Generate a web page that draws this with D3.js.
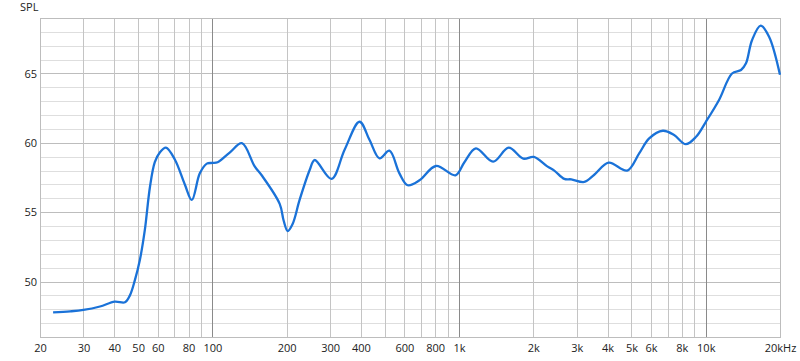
<!DOCTYPE html>
<html><head><meta charset="utf-8">
<script src="https://cdn.jsdelivr.net/npm/d3@7"></script>
<style>
body{margin:0;background:#fff;}
text{font-family:"Open Sans","Noto Sans",sans-serif;font-size:11px;fill:#222;}
</style></head>
<body><svg id="c" width="800" height="361"></svg>
<script>
const freqs = [22.6,26.5,30,35,40.2,44.2,46.3,48.5,50.8,53.2,55.8,58.4,61.2,64.8,70.4,77.3,82.5,88.9,94.9,100,105,117.5,131.7,148.4,158.4,187.4,194.4,201.9,211.4,225.8,247.9,259.6,304,343.5,395,433.7,476,522,573,619,691,806,967,1051,1170,1374,1588,1820,2010,2278,2432,2671,2850,3218,3532,4040,4800,5372,5898,6700,7446,8300,9140,10000,11320,12780,13900,14560,15400,16700,18060,20000];
const spl = [47.78,47.85,47.95,48.2,48.55,48.5,49.0,50.1,51.55,53.7,56.8,58.6,59.3,59.65,58.8,57.0,55.88,57.8,58.5,58.55,58.6,59.3,59.97,58.3,57.66,55.6,54.4,53.64,54.15,55.9,58.04,58.76,57.4,59.5,61.52,60.2,58.88,59.43,57.8,56.94,57.3,58.33,57.66,58.6,59.6,58.64,59.65,58.86,58.98,58.3,58.0,57.4,57.37,57.18,57.7,58.57,58.0,59.24,60.32,60.87,60.56,59.9,60.44,61.5,63.09,65.0,65.25,65.73,67.4,68.45,67.65,64.9];
const xTickValues = [20,30,40,50,60,80,100,200,300,400,600,800,1000,2000,3000,4000,5000,6000,8000,10000,20000];
const xTickLabels = ["20","30","40","50","60","80","100","200","300","400","600","800","1k","2k","3k","4k","5k","6k","8k","10k","20kHz"];
const yTickValues = [50,55,60,65];
const yDomain = [46,69];
const xDomain = [20,20000];

const svg = d3.select("#c");
const L=40, R=780, T=18, B=337;
const x = d3.scaleLog().domain(xDomain).range([L,R]);
const y = d3.scaleLinear().domain(yDomain).range([B,T]);

// grid lines
const g = svg.append("g");
const minorY = d3.range(yDomain[0]+1, yDomain[1]);
g.selectAll(".hy").data(minorY).enter().append("line")
  .attr("x1",L).attr("x2",R)
  .attr("y1",d=>Math.round(y(d))+0.5).attr("y2",d=>Math.round(y(d))+0.5)
  .attr("stroke",d=>d%5===0?"#bdbdbd":"#dedede").attr("stroke-width",1);
const vx = [];
[10,100,1000,10000].forEach(dec=>{for(let k=1;k<=9;k++){const f=dec*k; if(f>=20&&f<=20000) vx.push(f);}});
vx.push(20000);
g.selectAll(".vx").data(vx).enter().append("line")
  .attr("y1",T).attr("y2",B)
  .attr("x1",d=>Math.round(x(d))+0.5).attr("x2",d=>Math.round(x(d))+0.5)
  .attr("stroke",d=>(d===100||d===1000||d===10000)?"#8a8a8a":"#c4c4c4").attr("stroke-width",1);
// frame
g.append("rect").attr("x",L+0.5).attr("y",T+0.5).attr("width",R-L).attr("height",B-T)
  .attr("fill","none").attr("stroke","#bdbdbd");

// axes
const xAxis = d3.axisBottom(x).tickValues(xTickValues).tickFormat((d,i)=>xTickLabels[i]).tickSize(0).tickPadding(7);
const ax = svg.append("g").attr("transform",`translate(0,${B})`).call(xAxis);
ax.select(".domain").remove();
ax.selectAll("text").style("font-family",'"Open Sans","Noto Sans",sans-serif').style("font-size","11px").attr("fill","#222");
const yAxis = d3.axisLeft(y).tickValues(yTickValues).tickSize(0).tickPadding(3);
const ay = svg.append("g").attr("transform",`translate(${L},0)`).call(yAxis);
ay.select(".domain").remove();
ay.selectAll("text").style("font-family",'"Open Sans","Noto Sans",sans-serif').style("font-size","11px").attr("fill","#222");

svg.append("text").attr("x",20).attr("y",11).text("SPL");

// curve
const data = freqs.map((f,i)=>[f,spl[i]]);
const line = d3.line().x(d=>x(d[0])).y(d=>y(d[1])).curve(d3.curveCatmullRom.alpha(0.5));
svg.append("path").datum(data).attr("d",line).attr("fill","none")
  .attr("stroke","#1a72d8").attr("stroke-width",2.3).attr("stroke-linejoin","round");
</script></body></html>
